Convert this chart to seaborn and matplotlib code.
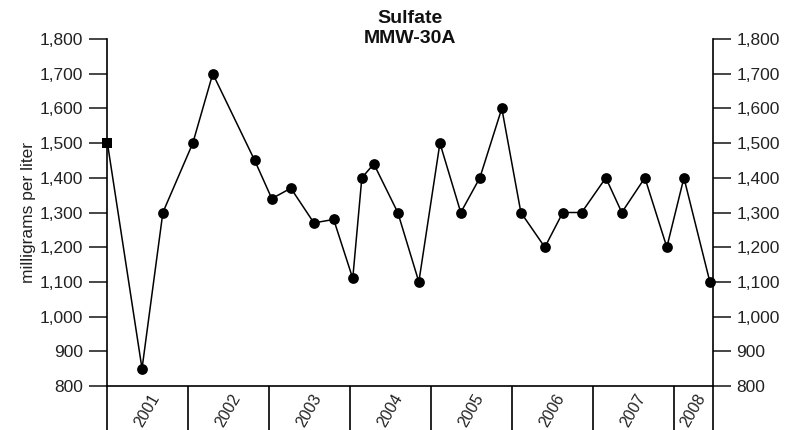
import pandas as pd
import seaborn as sns
import matplotlib
matplotlib.use('Agg')
import matplotlib.pyplot as plt
import matplotlib.dates as mdates
from matplotlib.ticker import FuncFormatter, FixedLocator, NullFormatter

# sample dates and sulfate results
sample_dates = [
    '2001-01-03', '2001-06-08', '2001-09-10', '2002-01-23', '2002-04-23',
    '2002-10-29', '2003-01-14', '2003-04-10', '2003-07-23', '2003-10-20',
    '2004-01-14', '2004-02-24', '2004-04-18', '2004-08-04', '2004-11-07',
    '2005-02-10', '2005-05-15', '2005-08-09', '2005-11-16', '2006-02-10',
    '2006-05-29', '2006-08-18', '2006-11-11', '2007-02-28', '2007-05-11',
    '2007-08-23', '2007-11-30', '2008-02-15', '2008-06-11',
]
sulfate = [
    1500, 850, 1300, 1500, 1700,
    1450, 1340, 1370, 1270, 1280,
    1110, 1400, 1440, 1300, 1100,
    1500, 1300, 1400, 1600, 1300,
    1200, 1300, 1300, 1400, 1300,
    1400, 1200, 1400, 1100,
]
years = [2001, 2002, 2003, 2004, 2005, 2006, 2007, 2008]
y_ticks = [800, 900, 1000, 1100, 1200, 1300, 1400, 1500, 1600, 1700, 1800]
x_start = '2001-01-01'
x_end = '2008-06-25'

sns.set_style('ticks')
plt.rcParams['font.family'] = ['Liberation Sans', 'DejaVu Sans']

df = pd.DataFrame({'date': pd.to_datetime(sample_dates), 'sulfate': sulfate})

fig = plt.figure(figsize=(7.86, 4.30), dpi=100)
ax = fig.add_axes([0.1361, 0.1023, 0.771, 0.807])

sns.lineplot(data=df, x='date', y='sulfate', color='black', linewidth=1.1, ax=ax)
sns.scatterplot(data=df.iloc[1:], x='date', y='sulfate', color='black', marker='o',
                s=60, edgecolor='black', linewidth=0, ax=ax, zorder=3, clip_on=False)
sns.scatterplot(data=df.iloc[:1], x='date', y='sulfate', color='black', marker='s',
                s=60, edgecolor='black', linewidth=0, ax=ax, zorder=3, clip_on=False)

left = mdates.date2num(pd.Timestamp(x_start))
right = mdates.date2num(pd.Timestamp(x_end))
ax.set_xlim(left, right)
ax.set_ylim(800, 1800)

# year separators as long major ticks, year names as minor ticks in between
starts = [mdates.date2num(pd.Timestamp(f'{y}-01-01')) for y in years]
edges = starts + [right]
mids = [(a + b) / 2 for a, b in zip(edges[:-1], edges[1:])]
ax.xaxis.set_major_locator(FixedLocator(edges))
ax.xaxis.set_major_formatter(NullFormatter())
ax.xaxis.set_minor_locator(FixedLocator(mids))
ax.set_xticklabels([str(y) for y in years], minor=True)
ax.tick_params(axis='x', which='major', length=32, width=1.2, direction='out', color='black')
ax.tick_params(axis='x', which='minor', length=0, pad=4, labelsize=11.5, labelcolor='#222222')
for lbl in ax.get_xticklabels(minor=True):
    lbl.set_rotation(60)
    lbl.set_ha('center')

ax.set_yticks(y_ticks)
ax.yaxis.set_major_formatter(FuncFormatter(lambda v, p: f'{v:,.0f}'))
ax.tick_params(axis='y', which='major', length=13, width=1.2, direction='out',
               left=True, right=True, labelleft=True, labelright=True,
               labelsize=12.5, labelcolor='#222222', pad=4)

for side in ['left', 'right', 'bottom']:
    ax.spines[side].set_visible(True)
    ax.spines[side].set_linewidth(1.2)
    ax.spines[side].set_color('black')
ax.spines['top'].set_visible(False)

ax.set_xlabel('')
ax.set_ylabel('milligrams per liter', fontsize=12.5, color='#222222', labelpad=3)

fig.text(0.522, 0.976, 'Sulfate\nMMW-30A', ha='center', va='top', multialignment='center',
         fontsize=14, fontweight='bold', color='#111111')

fig.savefig('out.png', dpi=100, facecolor='white')
